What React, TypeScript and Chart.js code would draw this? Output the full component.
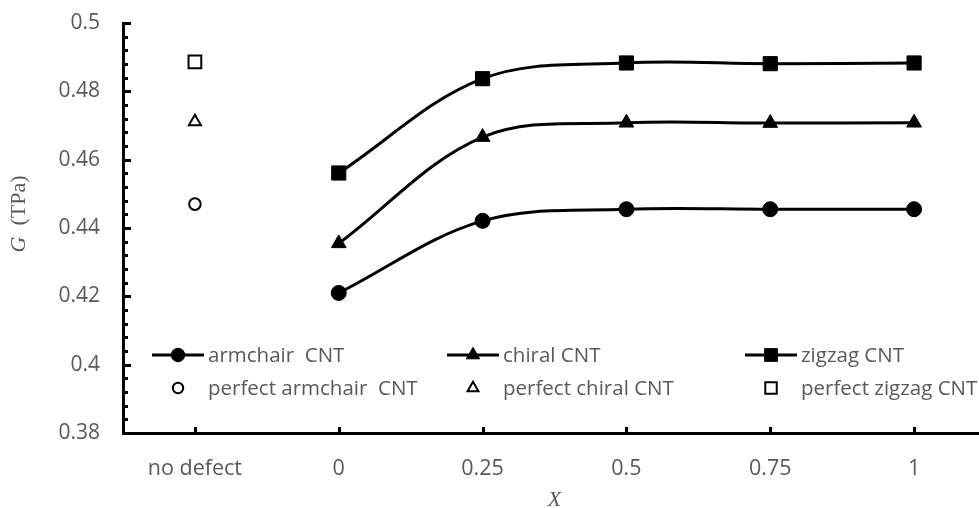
import React, { useEffect, useRef } from 'react';
import { Chart, registerables } from 'chart.js';
import { drawPoint } from 'chart.js/helpers';
Chart.register(...registerables);

// ---- data ----
const categories = ['no defect', '0', '0.25', '0.5', '0.75', '1'];
const armchairCNT = [null, 0.421, 0.4421, 0.4455, 0.4455, 0.4455];
const chiralCNT = [null, 0.4355, 0.4666, 0.4708, 0.4707, 0.4708];
const zigzagCNT = [null, 0.4561, 0.4837, 0.4883, 0.4881, 0.4883];
const perfectArmchairCNT = [0.447, null, null, null, null, null];
const perfectChiralCNT = [0.4711, null, null, null, null, null];
const perfectZigzagCNT = [0.4886, null, null, null, null, null];
const seriesLabels = ['armchair  CNT', 'chiral CNT', 'zigzag CNT', 'perfect armchair  CNT', 'perfect chiral CNT', 'perfect zigzag CNT'];
const yMin = 0.38;
const yMax = 0.5;
const yMinorStep = 0.004;
const yMajorStep = 0.02;
const xTitle = 'X';
const yTitleItalic = 'G';
const yTitleRest = '  (TPa)';

const TEXT = '#595959';
const SANS = '"Open Sans", sans-serif';
const SERIF = '"Liberation Serif", serif';

const isMajor = (v: number) => Math.abs(Math.round(v / yMajorStep) * yMajorStep - v) < 1e-7;

const customPlugin = {
  id: 'custom',
  afterDraw(chart: any) {
    const ctx = chart.ctx;
    const x = chart.scales.x;
    const y = chart.scales.y;
    const area = chart.chartArea;
    ctx.save();
    // inner tick marks
    ctx.strokeStyle = '#000';
    ctx.lineWidth = 3;
    ctx.lineCap = 'butt';
    y.ticks.forEach((t: any) => {
      const py = Math.round(y.getPixelForValue(t.value)) + 0.5;
      const len = isMajor(t.value) ? 8 : 5;
      ctx.beginPath();
      ctx.moveTo(area.left, py);
      ctx.lineTo(area.left + len, py);
      ctx.stroke();
    });
    categories.forEach((_, i) => {
      const px = Math.round(x.getPixelForTick(i)) + 0.5;
      ctx.beginPath();
      ctx.moveTo(px, area.bottom);
      ctx.lineTo(px, area.bottom - 6);
      ctx.stroke();
    });

    // y title (rotated, italic G)
    ctx.save();
    ctx.translate(19, (area.top + area.bottom) / 2 - 14);
    ctx.rotate(-Math.PI / 2);
    ctx.fillStyle = TEXT;
    ctx.textBaseline = 'middle';
    ctx.textAlign = 'left';
    ctx.font = `italic 22px ${SERIF}`;
    const w1 = ctx.measureText(yTitleItalic).width;
    ctx.font = `22px ${SERIF}`;
    const w2 = ctx.measureText(yTitleRest).width;
    const sx = -(w1 + w2) / 2;
    ctx.font = `italic 22px ${SERIF}`;
    ctx.fillText(yTitleItalic, sx, 0);
    ctx.font = `22px ${SERIF}`;
    ctx.fillText(yTitleRest, sx + w1, 0);
    ctx.restore();

    // legend
    const colX = [152, 447, 745];
    const rowY = [355, 388];
    const lineLen = 52;
    const textGap = 4;
    ctx.font = `20.5px ${SANS}`;
    ctx.textBaseline = 'middle';
    ctx.textAlign = 'left';
    chart.data.datasets.forEach((ds: any, i: number) => {
      const row = i < 3 ? 0 : 1;
      const col = i % 3;
      const x0 = colX[col];
      const yy = rowY[row];
      const mid = x0 + lineLen / 2;
      if (row === 0) {
        ctx.strokeStyle = ds.borderColor;
        ctx.lineWidth = ds.borderWidth;
        ctx.beginPath();
        ctx.moveTo(x0, yy);
        ctx.lineTo(x0 + lineLen, yy);
        ctx.stroke();
      }
      ctx.fillStyle = ds.pointBackgroundColor;
      ctx.strokeStyle = ds.pointBorderColor;
      ctx.lineWidth = ds.pointBorderWidth;
      drawPoint(ctx, { pointStyle: ds.pointStyle, radius: ds.pointRadius * 0.9, rotation: 0, borderWidth: ds.pointBorderWidth }, mid, yy);
      ctx.fillStyle = TEXT;
      ctx.fillText(ds.label, x0 + lineLen + textGap, yy + 1);
    });
    ctx.restore();
  },
};

export default function App() {
  const ref = useRef<HTMLCanvasElement>(null);
  useEffect(() => {
    document.body.style.margin = '0';
    document.body.style.overflow = 'hidden';
    const lineDs = (label: string, data: any[], style: string, radius: number) => ({
      label,
      data,
      borderColor: '#000',
      borderWidth: 3,
      tension: 0.35,
      pointStyle: style,
      pointRadius: radius,
      pointHoverRadius: radius,
      pointBackgroundColor: '#000',
      pointBorderColor: '#000',
      pointBorderWidth: 1,
      spanGaps: false,
      fill: false,
    });
    const pointDs = (label: string, data: any[], style: string, radius: number) => ({
      label,
      data,
      showLine: false,
      borderColor: '#000',
      borderWidth: 0,
      pointStyle: style,
      pointRadius: radius,
      pointHoverRadius: radius,
      pointBackgroundColor: '#fff',
      pointBorderColor: '#000',
      pointBorderWidth: 2,
    });
    const chart = new Chart(ref.current!, {
      type: 'line',
      data: {
        labels: categories,
        datasets: [
          lineDs(seriesLabels[0], armchairCNT, 'circle', 7.5),
          lineDs(seriesLabels[1], chiralCNT, 'triangle', 8.5),
          lineDs(seriesLabels[2], zigzagCNT, 'rect', 10),
          pointDs(seriesLabels[3], perfectArmchairCNT, 'circle', 5.8),
          pointDs(seriesLabels[4], perfectChiralCNT, 'triangle', 7),
          pointDs(seriesLabels[5], perfectZigzagCNT, 'rect', 9),
        ] as any,
      },
      options: {
        animation: false,
        responsive: false,
        devicePixelRatio: 1,
        layout: { padding: { top: 23, right: 14, bottom: 0, left: 0 } },
        plugins: { legend: { display: false }, tooltip: { enabled: false } },
        scales: {
          x: {
            type: 'category',
            offset: true,
            grid: { display: false, drawTicks: false },
            border: { display: true, color: '#000', width: 3 },
            ticks: { color: TEXT, font: { family: SANS, size: 21.5 }, padding: 23, maxRotation: 0, autoSkip: false },
            title: { display: true, text: xTitle, color: TEXT, font: { family: SERIF, size: 22, style: 'italic', lineHeight: 1 }, padding: { top: 4, bottom: -3 } },
            afterFit: (s: any) => { s.height = 75; s.paddingLeft = 0; s.paddingRight = 0; },
          },
          y: {
            min: yMin,
            max: yMax,
            grid: { display: false, drawTicks: false },
            border: { display: true, color: '#000', width: 3 },
            ticks: {
              stepSize: yMinorStep,
              autoSkip: false,
              padding: 23,
              color: TEXT,
              font: { family: SANS, size: 21 },
              callback: (v: any) => (isMajor(Number(v)) ? String(parseFloat(Number(v).toFixed(2))) : ''),
            },
            afterFit: (s: any) => { s.width = 123; s.paddingTop = 12; s.paddingBottom = 12; },
          },
        },
      },
      plugins: [customPlugin],
    } as any);
    return () => chart.destroy();
  }, []);
  return (
    <div style={{ width: 1000, height: 508, overflow: 'hidden' }}>
      <canvas ref={ref} width={1000} height={508} style={{ display: 'block' }} />
    </div>
  );
}
